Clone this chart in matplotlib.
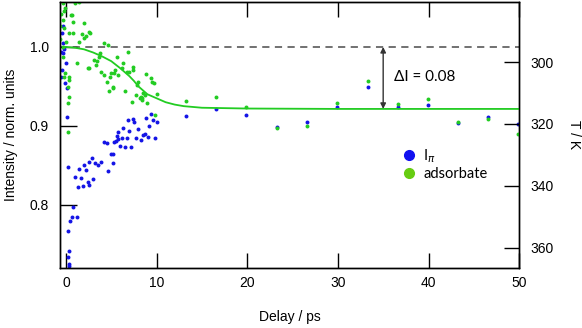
import matplotlib
matplotlib.use('Agg')
from matplotlib import pyplot as plt
from matplotlib.lines import Line2D

# I_pi (blue) points
blue_x = [-0.33, -0.44, -0.33, -0.55, -0.33, -0.2, 0.0, -0.44, -0.55, -0.11, 0.08, 0.08,
          0.19, 1.43, 1.98, 2.53, 3.19, 3.52, 3.85, 4.63, 5.18, 2.2, 0.99, 1.65, 2.42, 2.97,
          1.87, 1.32, 2.53, 0.77, 0.66, 1.21, 0.44, 0.22, 0.33, 0.22, 0.33, 0.33,
          2.86, 4.18, 4.48, 5.29, 4.96, 5.18,
          6.83, 7.35, 7.5, 6.28, 6.94, 7.9, 5.7, 5.6, 6.17, 6.7, 5.5, 5.7, 7.7, 8.26, 8.48,
          8.7, 9.0, 5.95, 6.5, 7.16, 8.8, 9.36, 9.58, 10.0, 9.14, 9.8,
          13.3, 16.6, 19.9, 23.3, 26.6, 29.9, 33.3, 36.6, 39.9, 43.2, 46.6, 49.9]
blue_y = [1.027, 1.018, 1.005, 0.994, 0.992, 0.997, 0.980, 0.971, 0.962, 0.954, 0.948, 0.911,
          0.848, 0.846, 0.851, 0.854, 0.853, 0.851, 0.854, 0.843, 0.853, 0.844, 0.835, 0.834, 0.829, 0.833,
          0.824, 0.823, 0.825, 0.797, 0.785, 0.784, 0.779, 0.767, 0.742, 0.734, 0.725, 0.722,
          0.859, 0.880, 0.878, 0.880, 0.865, 0.865,
          0.908, 0.909, 0.905, 0.897, 0.894, 0.896, 0.892, 0.887, 0.885, 0.885, 0.881, 0.883, 0.885, 0.882, 0.889,
          0.890, 0.886, 0.875, 0.873, 0.873, 0.910, 0.915, 0.908, 0.905, 0.900, 0.885,
          0.913, 0.921, 0.914, 0.898, 0.905, 0.924, 0.949, 0.924, 0.927, 0.904, 0.911, 0.903]

# adsorbate (green) points
green_x = [-0.33, -0.11, -0.55, -0.2, 0.55, -0.33, 0.74, 1.98, -0.66, -0.22, 0.33, 0.77,
           1.76, 2.2, 2.53, 1.43, 1.98, -0.66, 0.0, 4.18, 4.63, -0.33, -0.33, 1.21, 3.1,
           3.6, 3.3, 2.5, 3.85, 4.18, 4.96, -0.11, -0.22, 0.33,
           0.33, 0.22, 0.33, 0.22, 0.22, 4.7, 5.2,
           5.6, 6.8, 6.3, 5.4, 6.2, 6.7, 7.0, 7.4, 7.4, 4.85, 5.7, 8.8, 9.4, 9.5, 9.7,
           7.9, 7.8, 5.2, 6.5, 7.7, 8.5, 8.7, 8.3, 10.0, 8.4,
           7.3, 8.15, 8.4, 8.9, 9.8, 1.4, 1.0, 0.66, 2.7, 3.8, 3.4, 2.4, 4.5, 5.3,
           13.3, 16.6, 19.9, 23.3, 26.6, 29.9, 33.3, 36.6, 39.9, 43.2, 46.6, 49.9]
green_y = [1.056, 1.049, 1.042, 1.045, 1.041, 1.034, 1.032, 1.030, 1.027, 1.024, 1.018, 1.018,
           1.016, 1.014, 1.019, 1.006, 1.011, 1.010, 1.006, 1.005, 1.003, 1.000, 0.987, 0.980, 0.984,
           0.987, 0.977, 0.973, 0.968, 0.965, 0.967, 0.967, 0.962, 0.962,
           0.958, 0.949, 0.937, 0.929, 0.892, 0.944, 0.949,
           0.987, 0.994, 0.980, 0.971, 0.973, 0.968, 0.968, 0.975, 0.971, 0.962, 0.965, 0.966, 0.961, 0.956, 0.954,
           0.956, 0.952, 0.948, 0.944, 0.939, 0.942, 0.939, 0.937, 0.941, 0.935,
           0.930, 0.935, 0.933, 0.929, 0.914, 1.057, 1.056, 1.041, 1.018, 0.992, 0.982, 0.973, 0.956, 0.967,
           0.932, 0.937, 0.924, 0.897, 0.900, 0.929, 0.957, 0.928, 0.934, 0.905, 0.909, 0.890]

# fit curve
fit_x = [0, 1, 2, 3, 4, 5, 6, 7, 7.5, 8, 8.5, 9, 10, 11, 12, 13, 15, 20, 30, 50]
fit_y = [1.0, 0.999, 0.997, 0.993, 0.988, 0.982, 0.973, 0.963, 0.957, 0.950, 0.945, 0.940,
         0.935, 0.930, 0.927, 0.925, 0.923, 0.922, 0.9215, 0.9215]

blue = '#1414e6'
green = '#22cc22'

plt.rcParams['font.family'] = ['Liberation Sans', 'DejaVu Sans']
plt.rcParams['font.size'] = 10

fig = plt.figure(figsize=(5.82, 3.28), dpi=100)
ax = fig.add_axes([0.103, 0.183, 0.789, 0.811])

ax.axhline(1.0, color='#666666', lw=1.3, ls=(0, (4, 3)), zorder=1)
ax.scatter(blue_x, blue_y, s=8, color=blue, lw=0, zorder=2)
ax.scatter(green_x, green_y, s=8, color=green, lw=0, zorder=3)
ax.plot(fit_x, fit_y, color=green, lw=1.3, zorder=4)

ax.annotate('', xy=(35, 0.9215), xytext=(35, 1.0),
            arrowprops=dict(arrowstyle='<|-|>', color='#333333', lw=1.0,
                            shrinkA=0, shrinkB=0, mutation_scale=8))
ax.text(36.2, 0.962, u'\u0394I = 0.08', fontsize=11, family=['Lato', 'DejaVu Sans'],
        va='center', ha='left')

ax.set_xlim(-0.66, 50)
ax.set_ylim(0.720, 1.057)
ax.set_xticks([0, 10, 20, 30, 40, 50])
ax.set_yticks([0.8, 0.9, 1.0])
ax.set_yticklabels(['0.8', '0.9', '1.0'])
ax.tick_params(direction='in', length=11, width=1, top=True, labeltop=False, pad=6)
ax.tick_params(axis='y', length=12, pad=8)
ax.set_xlabel('Delay / ps', labelpad=14)
ax.set_ylabel('Intensity / norm. units', labelpad=8)

ax2 = ax.twinx()
ax2.set_ylim(366.5, 280.6)
ax2.set_yticks([300, 320, 340, 360])
ax2.tick_params(direction='in', length=11, width=1, pad=8)
ax2.set_ylabel('T / K', rotation=270, labelpad=20)

for a in (ax, ax2):
    for s in a.spines.values():
        s.set_linewidth(1.0)

handles = [Line2D([], [], ls='', marker='o', ms=7, color='#1010f0'),
           Line2D([], [], ls='', marker='o', ms=7, color='#66cc11')]
ax.legend(handles, [r'I$_\pi$', 'adsorbate'], loc='upper left',
          bbox_to_anchor=(0.728, 0.482), frameon=False, borderpad=0,
          handlelength=1.0, handletextpad=0.5, labelspacing=0.15,
          prop={'family': ['Lato', 'DejaVu Sans'], 'size': 10.5})

fig.savefig('out.png', dpi=100)
